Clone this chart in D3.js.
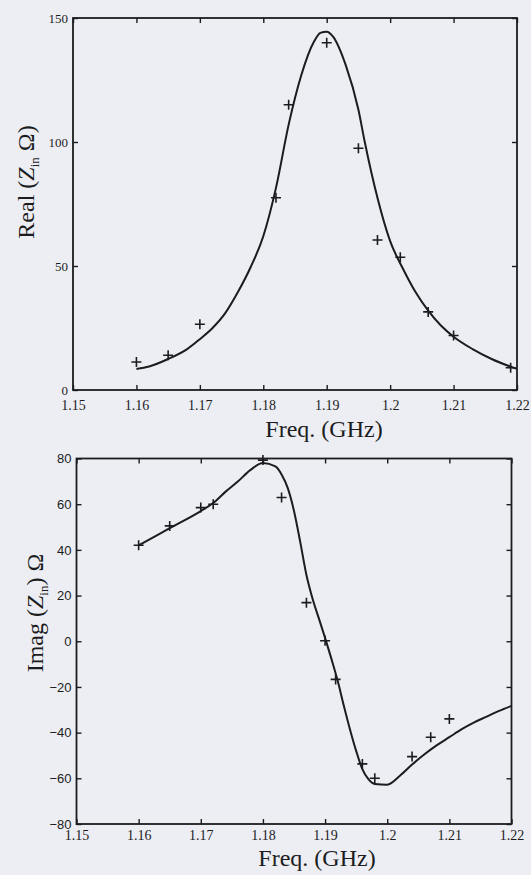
<!DOCTYPE html>
<html>
<head>
<meta charset="utf-8">
<script src="https://cdn.jsdelivr.net/npm/d3@7"></script>
<style>
  html, body { margin: 0; padding: 0; background: #eceef3; }
  svg { display: block; }
</style>
</head>
<body>
<div id="chart"></div>
<script>
// frequency ticks shared by both panels
const freqTicks = [1.15, 1.16, 1.17, 1.18, 1.19, 1.2, 1.21, 1.22]

// real part: simulated curve
const realFreq = [1.16, 1.162, 1.165, 1.168, 1.17, 1.172, 1.174, 1.176, 1.178, 1.18, 1.182, 1.184, 1.186, 1.188, 1.189, 1.19, 1.191, 1.193, 1.195, 1.196, 1.198, 1.2, 1.202, 1.204, 1.206, 1.208, 1.21, 1.213, 1.216, 1.22]
const realCurve = [8.5, 9.5, 12.5, 16.5, 20.5, 25, 31, 39.5, 49.5, 62, 81.5, 107, 127, 140.5, 144, 144.5, 142.5, 131, 113, 100, 77.5, 60, 49, 39.5, 32, 26, 21.5, 16.5, 12.5, 8.5]
// real part: measured points
const realMeasFreq = [1.16, 1.165, 1.17, 1.182, 1.184, 1.19, 1.195, 1.198, 1.2016, 1.206, 1.21, 1.219]
const realMeas = [11.3, 14, 26.5, 77.5, 115, 140, 97.5, 60.5, 53.5, 31.5, 22, 9]
const realTicks = [0, 50, 100, 150]

// imaginary part: simulated curve
const imagFreq = [1.16, 1.165, 1.17, 1.172, 1.174, 1.176, 1.178, 1.18, 1.182, 1.183, 1.184, 1.185, 1.186, 1.187, 1.188, 1.189, 1.19, 1.191, 1.192, 1.193, 1.194, 1.195, 1.196, 1.197, 1.198, 1.2, 1.202, 1.204, 1.206, 1.208, 1.21, 1.212, 1.214, 1.216, 1.218, 1.22]
const imagCurve = [42, 49.5, 57, 60.5, 65.5, 70, 75, 78, 76.5, 73, 67, 57, 43.5, 29, 18.5, 10, 1.5, -7.5, -17, -28, -38.5, -48, -56, -60.5, -62.5, -62.8, -59, -54, -49.5, -45.5, -42, -38.5, -35.5, -33, -30.5, -28.3]
// imaginary part: measured points
const imagMeasFreq = [1.16, 1.165, 1.17, 1.172, 1.18, 1.183, 1.187, 1.19, 1.1917, 1.196, 1.198, 1.204, 1.207, 1.21]
const imagMeas = [42, 50.5, 58.5, 60, 79.3, 62.9, 16.9, 0.2, -16.7, -53.7, -60, -50.5, -42, -34]
const imagTicks = [-80, -60, -40, -20, 0, 20, 40, 60, 80]

const width = 531
const height = 875
const ink = '#1c1c1e'
const serif = '"Liberation Serif", "Times New Roman", serif'
const sans = '"Liberation Sans", Arial, sans-serif'

const svg = d3.select('#chart').append('svg')
  .attr('width', width)
  .attr('height', height)

svg.append('rect')
  .attr('width', width)
  .attr('height', height)
  .attr('fill', '#eceef3')

const fmtFreq = d => String(+d.toFixed(2))

function drawPanel(p) {
  const x = d3.scaleLinear().domain([1.15, 1.22]).range(p.xRange)
  const y = d3.scaleLinear().domain(p.yDomain).range(p.yRange)
  const g = svg.append('g')

  // axes with inward ticks
  g.append('g')
    .attr('transform', `translate(0,${p.yRange[0]})`)
    .call(d3.axisBottom(x).tickValues(freqTicks).tickFormat(fmtFreq)
      .tickSizeInner(-5).tickSizeOuter(0).tickPadding(p.xPad))
    .attr('font-family', serif)
    .attr('font-size', 14)

  g.append('g')
    .attr('transform', `translate(${p.xRange[0]},0)`)
    .call(d3.axisLeft(y).tickValues(p.yTicks).tickFormat(d3.format('d'))
      .tickSizeInner(-5).tickSizeOuter(0).tickPadding(5))
    .attr('font-family', p.yFont)
    .attr('font-size', 13)

  g.append('g')
    .attr('transform', `translate(0,${p.yRange[1]})`)
    .call(d3.axisTop(x).tickValues(freqTicks).tickFormat('')
      .tickSizeInner(-5).tickSizeOuter(0))

  g.append('g')
    .attr('transform', `translate(${p.xRange[1]},0)`)
    .call(d3.axisRight(y).tickValues(p.yTicks).tickFormat('')
      .tickSizeInner(-5).tickSizeOuter(0))

  g.selectAll('.domain').remove()
  g.selectAll('.tick line').attr('stroke', ink).attr('stroke-width', 1.4)
  g.selectAll('.tick text').attr('fill', ink)

  // frame
  g.append('rect')
    .attr('x', p.xRange[0])
    .attr('y', p.yRange[1])
    .attr('width', p.xRange[1] - p.xRange[0])
    .attr('height', p.yRange[0] - p.yRange[1])
    .attr('fill', 'none')
    .attr('stroke', ink)
    .attr('stroke-width', 1.8)

  // simulated curve
  const line = d3.line()
    .x((d, i) => x(p.curveX[i]))
    .y(d => y(d))
    .curve(d3.curveMonotoneX)

  g.append('path')
    .datum(p.curveY)
    .attr('d', line)
    .attr('fill', 'none')
    .attr('stroke', ink)
    .attr('stroke-width', 2)

  // measured points as "+"
  g.selectAll('.meas')
    .data(p.measY)
    .join('path')
    .attr('class', 'meas')
    .attr('transform', (d, i) => `translate(${x(p.measX[i])},${y(d)})`)
    .attr('d', 'M-5,0H5M0,-5V5')
    .attr('stroke', ink)
    .attr('stroke-width', 1.6)

  // x title
  g.append('text')
    .attr('x', p.xTitleX)
    .attr('y', p.xTitleY)
    .attr('text-anchor', 'middle')
    .attr('font-family', serif)
    .attr('font-size', 24)
    .attr('fill', ink)
    .text('Freq. (GHz)')

  // y title with subscript
  const yt = g.append('text')
    .attr('transform', `translate(${p.yTitleX},${p.yTitleY}) rotate(-90)`)
    .attr('text-anchor', 'middle')
    .attr('font-family', serif)
    .attr('font-size', 24)
    .attr('fill', ink)
  yt.append('tspan').text(p.yTitle[0])
  yt.append('tspan').attr('font-style', 'italic').text('Z')
  yt.append('tspan').attr('dy', 5).attr('font-size', 13).text('in')
  yt.append('tspan').attr('dy', -5).text(p.yTitle[1])
}

drawPanel({
  xRange: [73, 517],
  yRange: [390, 18],
  yDomain: [0, 150],
  yTicks: realTicks,
  yFont: serif,
  xPad: 10,
  curveX: realFreq,
  curveY: realCurve,
  measX: realMeasFreq,
  measY: realMeas,
  xTitleX: 324,
  xTitleY: 437,
  yTitleX: 34,
  yTitleY: 182,
  yTitle: ['Real (', ' \u03A9)']
})

drawPanel({
  xRange: [76.5, 511.5],
  yRange: [824, 458.5],
  yDomain: [-80, 80],
  yTicks: imagTicks,
  yFont: sans,
  xPad: 6,
  curveX: imagFreq,
  curveY: imagCurve,
  measX: imagMeasFreq,
  measY: imagMeas,
  xTitleX: 317,
  xTitleY: 866,
  yTitleX: 43,
  yTitleY: 613,
  yTitle: ['Imag (', ') \u03A9']
})
</script>
</body>
</html>
